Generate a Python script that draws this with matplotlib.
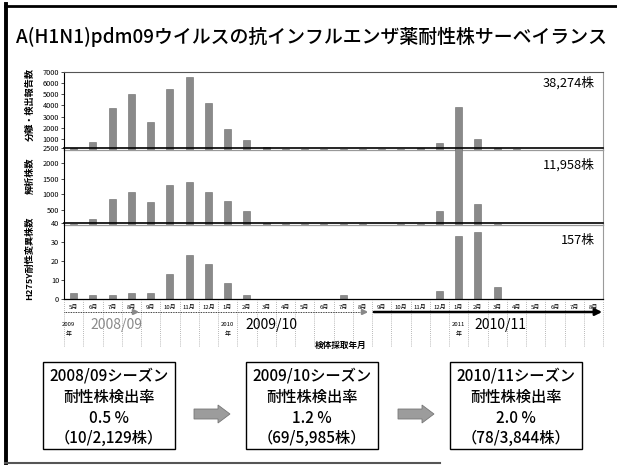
import numpy as np
import matplotlib.pyplot as plt
from matplotlib.patches import Rectangle, FancyArrow

plt.rcParams['font.family'] = ['Noto Sans CJK JP', 'DejaVu Sans']

W, H = 617, 465

# 2009年5月 - 2011年8月 の月ラベル
months = ['5月', '6月', '7月', '8月', '9月', '10月', '11月', '12月',
          '1月', '2月', '3月', '4月', '5月', '6月', '7月', '8月',
          '9月', '10月', '11月', '12月', '1月', '2月', '3月', '4月',
          '5月', '6月', '7月', '8月']

# 分離・検出報告数
isolates = [200, 750, 3800, 5000, 2480, 5450, 6570, 4180, 1900, 900, 270, 150,
            100, 120, 150, 120, 110, 130, 200, 600, 3850, 1000, 180, 64,
            0, 0, 0, 0]
# 解析株数
analyzed = [30, 195, 830, 1074, 745, 1290, 1400, 1060, 770, 455, 80, 50,
            35, 30, 40, 30, 10, 20, 40, 455, 2600, 680, 39, 0,
            0, 0, 0, 0]
# H275Y耐性変異株数
resistant = [3, 2, 2, 3, 3, 13, 23, 18, 8, 2, 0, 0,
             0, 0, 2, 0, 0, 0, 0, 4, 33, 35, 6, 0,
             0, 0, 0, 0]

panel_totals = ['38,274株', '11,958株', '157株']
panel_ylabels = ['分離・検出報告数', '解析株数', 'H275Y耐性変異株数']

seasons = ['2008/09', '2009/10', '2010/11']
season_rates = ['0.5 %', '1.2 %', '2.0 %']
season_counts = ['（10/2,129株）', '（69/5,985株）', '（78/3,844株）']

title = 'A(H1N1)pdm09ウイルスの抗インフルエンザ薬耐性株サーベイランス'

fig = plt.figure(figsize=(W / 100, H / 100), dpi=100)


def px_axes(x0, y0, x1, y1):
    return fig.add_axes([x0 / W, 1 - y1 / H, (x1 - x0) / W, (y1 - y0) / H])


# overlay for title, frame and summary boxes (pixel coords)
ov = px_axes(0, 0, W, H)
ov.set_xlim(0, W)
ov.set_ylim(H, 0)
ov.axis('off')

ov.plot([6, 6], [4, 463], color='black', lw=2.8)
ov.plot([5, W], [6, 6], color='black', lw=2)
ov.plot([5, 440], [463, 463], color='#555555', lw=1.5)

ov.text(16, 37, title, fontsize=13.6, fontweight='medium', ha='left', va='center')

# three stacked panels
x = np.arange(len(months))
panels = [
    (px_axes(64, 71.7, 603, 150.2), isolates, 7000, np.arange(1000, 7001, 1000)),
    (px_axes(64, 147.9, 603, 225.1), analyzed, 2500, np.arange(500, 2501, 500)),
    (px_axes(64, 222.7, 603, 298.7), resistant, 40, np.arange(0, 41, 10)),
]
label_y = [104, 176, 258]
total_pos = [0.86, 0.78, 0.77]

for i, (ax, vals, ymax, ticks) in enumerate(panels):
    ax.set_facecolor('none')
    ax.bar(x, vals, width=0.37, color='#8a8a8a', edgecolor='#6a6a6a', linewidth=0.4)
    ax.set_xlim(-0.5, len(months) - 0.5)
    ax.set_ylim(0, ymax)
    ax.set_yticks(ticks)
    ax.set_yticklabels([str(t) for t in ticks], fontsize=5.3)
    ax.tick_params(axis='y', direction='out', length=2, width=0.5, pad=1.5)
    ax.spines['left'].set_color('black')
    ax.spines['left'].set_linewidth(0.8)
    ax.spines['right'].set_color('#9a9a9a')
    ax.spines['right'].set_linewidth(0.8)
    ax.spines['top'].set_color('black' if i > 0 else '#555555')
    ax.spines['top'].set_linewidth(1.2 if i > 0 else 0.8)
    ax.spines['bottom'].set_color('#999999' if i < 2 else 'black')
    ax.spines['bottom'].set_linewidth(0.9)
    ax.text(0.985, total_pos[i], panel_totals[i], transform=ax.transAxes,
            ha='right', va='center', fontsize=9.2)
    ov.text(30, label_y[i], panel_ylabels[i], rotation=90, ha='center', va='center',
            fontsize=6.6, fontweight='bold')
    if i < 2:
        ax.set_xticks([])

ax3 = panels[2][0]
ax3.set_xticks(x)
ax3.set_xticklabels(months, fontsize=4.3)
ax3.tick_params(axis='x', length=0, pad=4.2)

tr = ax3.get_xaxis_transform()
hpx = 76.0


def fy(py):
    # pixel row below the bottom panel -> axes fraction
    return -(py - 298.7) / hpx


# dotted separators between months
bounds = np.arange(-0.5, len(months) + 0.5, 1.0)
ax3.vlines(bounds, fy(346), fy(300), transform=tr, colors='#a0a0a0',
           linestyles=(0, (1, 1.5)), linewidth=0.6, clip_on=False)

# time axis arrows under the month labels
ax3.plot([-0.5, 15.2], [fy(312), fy(312)], transform=tr, color='black',
         lw=0.6, ls=(0, (1, 1)), clip_on=False)
for xa in [3.3, 15.2]:
    ax3.annotate('', xy=(xa + 0.25, fy(312)), xytext=(xa - 0.35, fy(312)),
                 xycoords=tr, textcoords=tr,
                 arrowprops=dict(arrowstyle='-|>', color='#888888', lw=1.6,
                                 mutation_scale=7), annotation_clip=False)
ax3.annotate('', xy=(27.6, fy(312)), xytext=(15.45, fy(312)),
             xycoords=tr, textcoords=tr,
             arrowprops=dict(arrowstyle='-|>', color='black', lw=1.8,
                             mutation_scale=10), annotation_clip=False)

# years and season labels
for xi, yr in [(-0.25, '2009'), (8, '2010'), (20, '2011')]:
    ax3.text(xi, fy(324), yr, transform=tr, ha='center', va='center', fontsize=4.3)
    ax3.text(xi, fy(334), '年', transform=tr, ha='center', va='center', fontsize=4.3)
season_x = [2.2, 10.3, 22.15]
season_c = ['#8a8a8a', 'black', 'black']
for sx, s, c in zip(season_x, seasons, season_c):
    ax3.text(sx, fy(325), s, transform=tr, ha='center', va='center',
             fontsize=10, color=c)
ax3.text(13.85, fy(345), '検体採取年月', transform=tr, ha='center', va='center',
         fontsize=6.2, fontweight='bold')

# season summary boxes
box_x = [43, 246, 450]
box_w = 132
for bx, s, r, c in zip(box_x, seasons, season_rates, season_counts):
    ov.add_patch(Rectangle((bx, 362), box_w, 87, facecolor='white',
                           edgecolor='black', lw=1.0))
    cx = bx + box_w / 2
    lines = [s + 'シーズン', '耐性株検出率', r, c]
    for ly, t in zip([376, 397, 418, 438], lines):
        ov.text(cx, ly, t, ha='center', va='center', fontsize=11,
                fontweight='medium')

for ax0 in [194, 398]:
    ov.add_patch(FancyArrow(ax0, 414, 36, 0, width=10, head_width=18,
                            head_length=12, length_includes_head=True,
                            facecolor='#9c9c9c', edgecolor='#777777', lw=0.6))

fig.savefig('out.png', dpi=100)
